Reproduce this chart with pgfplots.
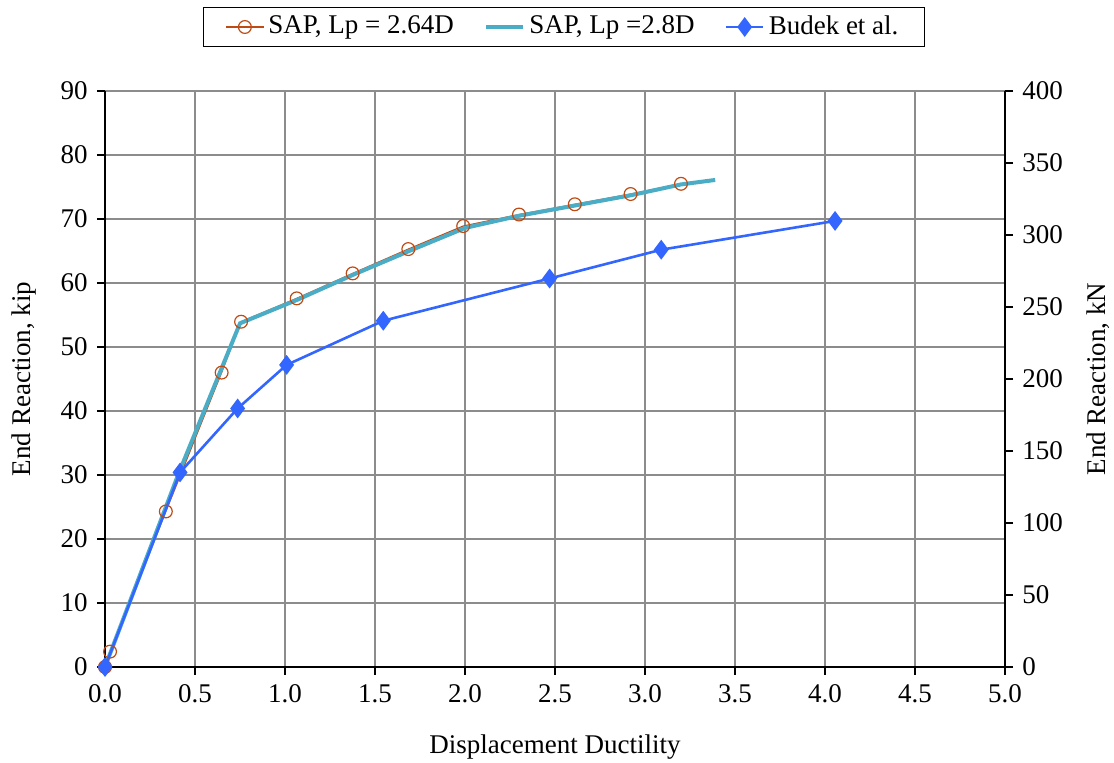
\documentclass[border=0pt]{standalone}
\usepackage{fontspec}
\setmainfont{Liberation Serif}
\usepackage{pgfplots}
\pgfplotsset{compat=1.18}
\definecolor{sapbrown}{RGB}{190,75,20}
\definecolor{sapcyan}{RGB}{75,172,198}
\definecolor{budek}{RGB}{51,102,255}
\definecolor{gridgray}{RGB}{140,140,140}
\begin{document}
\fontsize{13.5}{16}\selectfont
\begin{tikzpicture}
\pgfplotsset{
  common/.style={
    scale only axis, width=450pt, height=288pt,
    xmin=0, xmax=5,
    font=\fontsize{13.5}{16}\selectfont,
    tick align=outside, major tick length=4pt,
    tick style={black, line width=0.6pt},
    axis line style={black, line width=0.7pt},
    /pgf/number format/assume math mode=true,
  }
}
\begin{axis}[common, name=main,
  ymin=0, ymax=90,
  xtick={0,0.5,...,5}, ytick={0,10,...,90},
  axis x line*=bottom, axis y line*=left,
  grid=major, grid style={gridgray, line width=0.7pt},
  xticklabel style={/pgf/number format/.cd, fixed, fixed zerofill, precision=1},
  yticklabel style={/pgf/number format/.cd, fixed},
  xlabel={Displacement Ductility}, ylabel={End Reaction,  kip},
  xlabel shift=7pt, ylabel shift=3pt,
  legend columns=3,
  legend style={at={(0.5,1)}, anchor=south, yshift=22pt, xshift=4.5pt,
    draw=black, line width=0.6pt, font=\fontsize{13.5}{16}\selectfont,
    /tikz/every even column/.append style={column sep=13pt},
    inner xsep=11pt, inner ysep=2pt},
  legend image code/.code={\draw[mark repeat=2, mark phase=2, #1] plot coordinates {(0cm,0cm) (0.33cm,0cm) (0.66cm,0cm)};},
]
\addplot[sapbrown, line width=0.6pt, mark=o, mark size=3.2pt, mark options={solid, line width=0.6pt}]
coordinates {(0,0) (0.028,2.4) (0.338,24.3) (0.648,46.0) (0.756,53.95) (1.065,57.6) (1.376,61.5) (1.685,65.3) (1.99,68.9) (2.30,70.7) (2.61,72.3) (2.92,73.9) (3.20,75.5)};
\addlegendentry{SAP, Lp = 2.64D}
\addplot[sapcyan, line width=2pt, mark=none]
coordinates {(0,0) (0.41,30.3) (0.75,53.7) (1.07,57.4) (1.38,61.3) (1.69,65.0) (2.0,68.6) (2.3,70.5) (2.61,72.1) (2.92,73.7) (3.2,75.4) (3.39,76.1)};
\addlegendentry{SAP, Lp =2.8D}
\addplot[budek, line width=1.3pt, mark=diamond*, mark size=3.9pt, mark options={solid}]
coordinates {(0,0) (0.417,30.4) (0.737,40.4) (1.009,47.2) (1.546,54.1) (2.47,60.7) (3.09,65.2) (4.056,69.7)};
\addlegendentry{Budek et al.}
\end{axis}
\begin{axis}[common,
  ymin=0, ymax=400, ytick={0,50,...,400},
  axis y line*=right, axis x line=none,
  yticklabel style={/pgf/number format/.cd, fixed},
  ylabel={End Reaction,  kN}, ylabel shift=2.5pt,
]
\end{axis}
\pgfresetboundingbox
\useasboundingbox ([shift={(-52.5pt,-48pt)}]main.south west) rectangle ([shift={(54.5pt,45.5pt)}]main.north east);
\end{tikzpicture}
\end{document}
